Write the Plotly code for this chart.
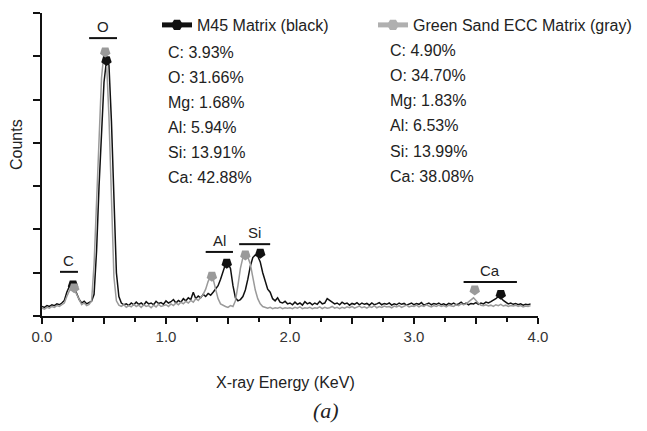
import plotly.graph_objects as go

# ---------------- data ----------------
energy_step = 0.02
m45_counts = [
    0.22,0.20,0.24,0.22,0.26,0.24,0.28,0.26,0.30,0.36,
    0.55,0.68,0.70,0.66,0.52,0.38,0.30,0.34,0.28,0.32,
    0.34,0.50,1.50,3.00,4.40,5.40,5.90,5.80,4.50,2.60,
    1.00,0.45,0.30,0.26,0.28,0.24,0.30,0.26,0.32,0.27,
    0.30,0.25,0.33,0.28,0.30,0.26,0.34,0.29,0.31,0.27,
    0.35,0.30,0.33,0.38,0.30,0.36,0.32,0.40,0.35,0.42,
    0.38,0.55,0.40,0.46,0.42,0.50,0.45,0.52,0.48,0.55,
    0.62,0.70,0.85,1.05,1.20,1.22,1.10,0.70,0.42,0.35,
    0.38,0.45,0.60,0.85,1.15,1.35,1.41,1.38,1.25,1.00,
    0.80,0.62,0.55,0.40,0.35,0.42,0.32,0.30,0.34,0.28,
    0.30,0.26,0.32,0.27,0.30,0.25,0.33,0.28,0.31,0.26,
    0.30,0.27,0.34,0.28,0.30,0.40,0.36,0.32,0.28,0.30,
    0.26,0.32,0.28,0.30,0.25,0.29,0.27,0.31,0.26,0.30,
    0.27,0.29,0.25,0.30,0.26,0.28,0.31,0.26,0.29,0.27,
    0.30,0.25,0.28,0.26,0.30,0.27,0.29,0.25,0.28,0.30,
    0.26,0.29,0.27,0.31,0.25,0.28,0.30,0.26,0.29,0.27,
    0.30,0.26,0.28,0.25,0.29,0.27,0.30,0.26,0.28,0.32,
    0.27,0.30,0.26,0.29,0.28,0.31,0.27,0.30,0.28,0.32,
    0.30,0.33,0.36,0.40,0.45,0.42,0.36,0.32,0.28,0.30,
    0.27,0.29,0.26,0.28,0.25,0.27,0.26,0.28,
]
gs_counts = [
    0.18,0.16,0.20,0.18,0.22,0.20,0.24,0.22,0.26,0.30,
    0.45,0.58,0.63,0.62,0.50,0.36,0.26,0.30,0.24,0.27,
    0.35,1.20,2.60,4.20,5.50,6.10,5.90,4.60,2.60,0.90,
    0.35,0.25,0.22,0.26,0.20,0.24,0.21,0.27,0.22,0.25,
    0.20,0.26,0.22,0.24,0.19,0.25,0.21,0.27,0.22,0.24,
    0.26,0.22,0.28,0.24,0.30,0.26,0.32,0.28,0.34,0.30,
    0.36,0.32,0.40,0.36,0.44,0.50,0.62,0.80,0.92,0.86,
    0.62,0.40,0.28,0.24,0.22,0.20,0.24,0.22,0.35,0.70,
    1.10,1.35,1.41,1.36,1.20,0.90,0.60,0.40,0.28,0.22,
    0.20,0.18,0.20,0.17,0.19,0.18,0.20,0.17,0.19,0.18,
    0.19,0.17,0.20,0.18,0.21,0.17,0.19,0.18,0.20,0.17,
    0.19,0.18,0.21,0.17,0.20,0.18,0.19,0.22,0.18,0.20,
    0.17,0.20,0.18,0.21,0.19,0.22,0.18,0.20,0.23,0.19,
    0.21,0.18,0.22,0.20,0.24,0.19,0.22,0.20,0.23,0.21,
    0.22,0.19,0.23,0.21,0.24,0.20,0.22,0.25,0.21,0.23,
    0.22,0.25,0.21,0.24,0.22,0.26,0.23,0.21,0.24,0.22,
    0.25,0.22,0.24,0.21,0.25,0.23,0.22,0.26,0.24,0.28,
    0.26,0.28,0.32,0.38,0.42,0.36,0.29,0.25,0.24,0.26,
    0.23,0.25,0.22,0.26,0.24,0.27,0.23,0.25,0.22,0.24,
    0.23,0.25,0.22,0.24,0.21,0.23,0.22,0.24,
]
energy = [round(i * energy_step, 2) for i in range(len(m45_counts))]

# peak markers
m45_peak_e = [0.25, 0.52, 1.49, 1.76, 3.70]
m45_peak_c = [0.72, 5.90, 1.22, 1.45, 0.50]
gs_peak_e = [0.26, 0.51, 1.37, 1.64, 3.49]
gs_peak_c = [0.65, 6.10, 0.92, 1.41, 0.60]

# element labels over peaks
peak_labels = ["C", "O", "Al", "Si", "Ca"]
peak_bar_x0 = [0.145, 0.38, 1.32, 1.59, 3.40]
peak_bar_x1 = [0.29, 0.605, 1.54, 1.84, 3.83]
peak_bar_y = [1.02, 6.42, 1.48, 1.66, 0.785]

# composition tables
elements = ["C", "O", "Mg", "Al", "Si", "Ca"]
m45_pct = [3.93, 31.66, 1.68, 5.94, 13.91, 42.88]
gs_pct = [4.90, 34.70, 1.83, 6.53, 13.99, 38.08]

x_major = [i * 0.5 for i in range(9)]
x_major_text = [f"{v:.1f}" if v == int(v) else "" for v in x_major]
x_minor = [0.25 + i * 0.5 for i in range(8)]
y_tick_vals = list(range(8))

# ---------------- layout helpers ----------------
OFF = 8                     # default page (body) margin
W, H = 647 - OFF, 431 - OFF
L, R, T, B = 42, 538, 13, 316   # plot area in page pixels
def px(xp): return (xp - L) / (R - L)
def py(yp): return (B - yp) / (B - T)

FONT = "Liberation Sans, Arial, sans-serif"
BLACK = "#111111"
GRAY = "#9a9a9a"
TXT = "#222222"

fig = go.Figure()

fig.add_trace(go.Scatter(x=energy, y=m45_counts, mode="lines",
                         line=dict(color=BLACK, width=1.5), showlegend=False, hoverinfo="skip"))
fig.add_trace(go.Scatter(x=energy, y=gs_counts, mode="lines",
                         line=dict(color=GRAY, width=1.5), showlegend=False, hoverinfo="skip"))
fig.add_trace(go.Scatter(x=m45_peak_e, y=m45_peak_c, mode="markers",
                         marker=dict(symbol="pentagon", angle=180, size=11, color=BLACK),
                         showlegend=False))
fig.add_trace(go.Scatter(x=gs_peak_e, y=gs_peak_c, mode="markers",
                         marker=dict(symbol="pentagon", angle=180, size=11, color=GRAY),
                         showlegend=False))
# legend entries
fig.add_trace(go.Scatter(x=[None], y=[None], mode="lines+markers", name="M45 Matrix (black)",
                         line=dict(color=BLACK, width=3), legend="legend",
                         marker=dict(symbol="hexagon2", size=11, color=BLACK)))
fig.add_trace(go.Scatter(x=[None], y=[None], mode="lines+markers", name="Green Sand ECC Matrix (gray)",
                         line=dict(color="#b0b0b0", width=3), legend="legend2",
                         marker=dict(symbol="hexagon2", size=11, color="#b0b0b0")))

shapes = []
annotations = []
for lab, x0, x1, yb in zip(peak_labels, peak_bar_x0, peak_bar_x1, peak_bar_y):
    shapes.append(dict(type="line", xref="x", yref="y", x0=x0, x1=x1, y0=yb, y1=yb,
                       line=dict(color=BLACK, width=2)))
    annotations.append(dict(x=(x0 + x1) / 2, y=yb, xref="x", yref="y", text=lab,
                            showarrow=False, yanchor="bottom", yshift=1,
                            font=dict(family=FONT, size=15, color=TXT)))

for i, el in enumerate(elements):
    annotations.append(dict(x=px(166), y=py(52 + 25 * i), xref="paper", yref="paper",
                            text=f"{el}: {m45_pct[i]:.2f}%", showarrow=False,
                            xanchor="left", yanchor="middle",
                            font=dict(family=FONT, size=16, color=TXT)))
    annotations.append(dict(x=px(388), y=py(51 + 25 * i), xref="paper", yref="paper",
                            text=f"{el}: {gs_pct[i]:.2f}%", showarrow=False,
                            xanchor="left", yanchor="middle",
                            font=dict(family=FONT, size=16, color=TXT)))

annotations.append(dict(x=px(16), y=py(145), xref="paper", yref="paper", text="Counts",
                        textangle=-90, showarrow=False, xanchor="center", yanchor="middle",
                        font=dict(family=FONT, size=16, color=TXT)))
annotations.append(dict(x=px(285), y=py(383), xref="paper", yref="paper",
                        text="X-ray Energy (KeV)", showarrow=False,
                        xanchor="center", yanchor="middle",
                        font=dict(family=FONT, size=16, color=TXT)))
annotations.append(dict(x=px(326), y=py(410), xref="paper", yref="paper",
                        text="<i>(a)</i>", showarrow=False, xanchor="center", yanchor="middle",
                        font=dict(family="Liberation Serif, Times New Roman, serif", size=22, color=TXT)))

legend_common = dict(orientation="h", yanchor="middle", xanchor="left",
                     font=dict(family=FONT, size=16, color=TXT),
                     bgcolor="rgba(0,0,0,0)", itemsizing="constant", borderwidth=0)

fig.update_layout(
    width=W, height=H,
    margin=dict(l=L - OFF, r=W - (R - OFF), t=T - OFF, b=H - (B - OFF), pad=0, autoexpand=False),
    paper_bgcolor="white", plot_bgcolor="white",
    shapes=shapes, annotations=annotations,
    font=dict(family=FONT, color=TXT),
    legend=dict(x=px(157), y=py(25), **legend_common),
    legend2=dict(x=px(373), y=py(25), **legend_common),
    xaxis=dict(range=[0, 4], showgrid=False, zeroline=False, showline=True,
               linecolor="#111", linewidth=2, ticks="outside", ticklen=6, tickwidth=1.5,
               tickcolor="#111", tickvals=x_major, ticktext=x_major_text,
               minor=dict(tickvals=x_minor, ticks="outside", ticklen=4, tickwidth=1.5, tickcolor="#111"),
               ticklabelstandoff=0, tickfont=dict(family=FONT, size=15, color="#333")),
    yaxis=dict(range=[0, 7], showgrid=False, zeroline=False, showline=True,
               linecolor="#111", linewidth=2, ticks="outside", ticklen=7, tickwidth=1.5,
               tickcolor="#111", tickvals=y_tick_vals, showticklabels=False),
)

fig.write_html("out.html")
